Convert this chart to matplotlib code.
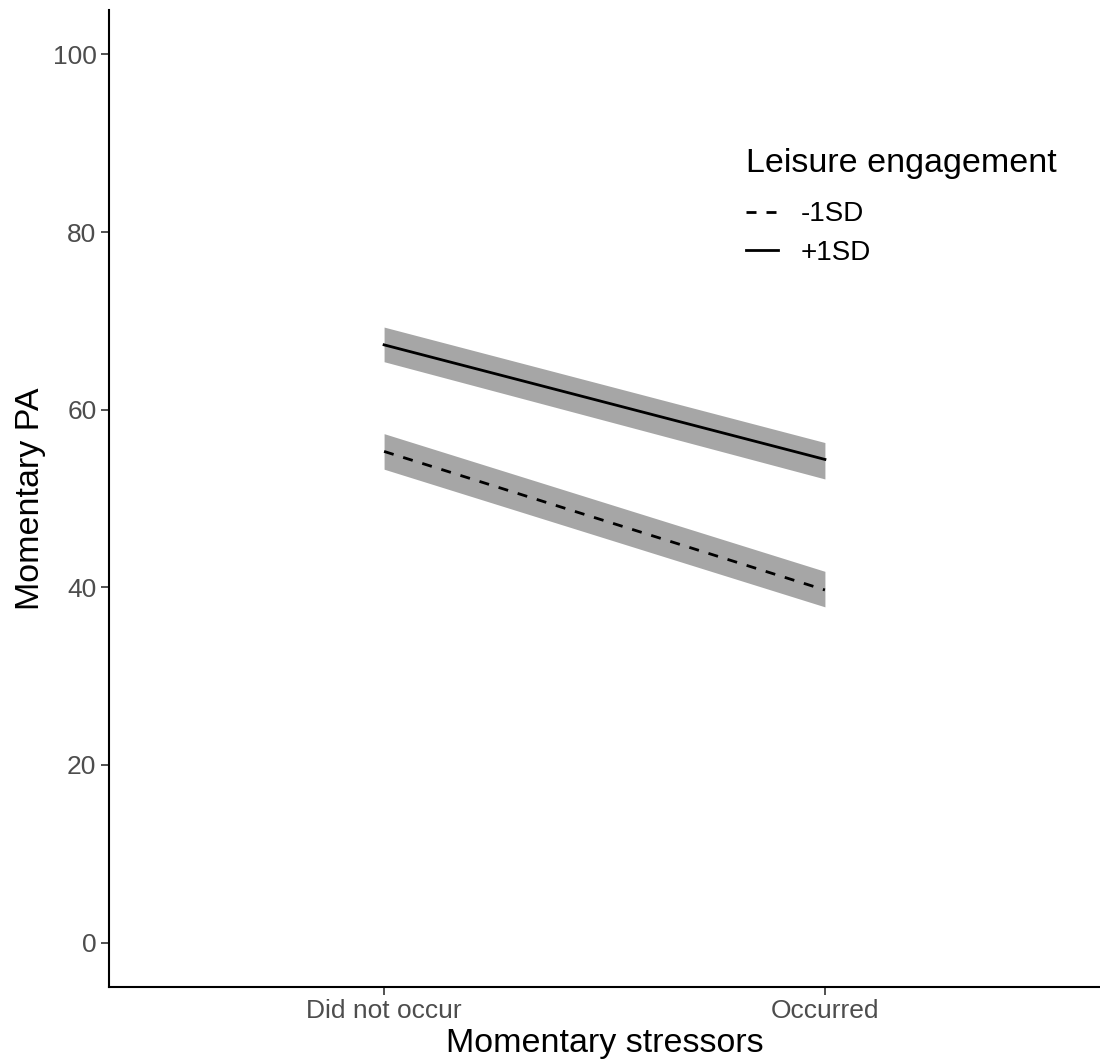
import matplotlib.pyplot as plt
import numpy as np

plt.rcParams['font.family'] = ['Liberation Sans', 'DejaVu Sans']

# data
categories = ['Did not occur', 'Occurred']
groups = ['-1SD', '+1SD']
fit = {'-1SD': [55.3, 39.7], '+1SD': [67.3, 54.4]}
lower = {'-1SD': [53.3, 37.8], '+1SD': [65.4, 52.2]}
upper = {'-1SD': [57.3, 41.8], '+1SD': [69.3, 56.3]}
yticks = [0, 20, 40, 60, 80, 100]

styles = {'-1SD': (0, (3.6, 3.6)), '+1SD': '-'}

fig = plt.figure(figsize=(11, 10.61), dpi=100)
ax = fig.add_axes([109/1100, 1-987/1061, 1-109/1100, (987-10)/1061])

x = np.arange(1, len(categories)+1)
for g in groups:
    ax.fill_between(x, lower[g], upper[g], color='#a6a6a6', lw=0, zorder=1)
for g in groups:
    ax.plot(x, fit[g], color='black', lw=2, linestyle=styles[g], label=g, zorder=2)

ax.set_xlim(0.376, 2.624)
ax.set_ylim(-5, 105)
ax.set_xticks(x)
ax.set_xticklabels(categories)
ax.set_yticks(yticks)
ax.tick_params(labelsize=19, labelcolor='#4d4d4d', color='#333333', length=6, width=1.2, pad=3)
for s in ['top', 'right']:
    ax.spines[s].set_visible(False)
for s in ['left', 'bottom']:
    ax.spines[s].set_linewidth(1.5)
ax.set_xlabel('Momentary stressors', fontsize=24.5, labelpad=3)
ax.set_ylabel('Momentary PA', fontsize=24.5, labelpad=5)

leg = ax.legend(title='Leisure engagement', loc='upper left', bbox_to_anchor=(0.632, 0.87),
                frameon=False, fontsize=20, title_fontsize=24.5, handlelength=1.15,
                handletextpad=0.8, labelspacing=0.45, alignment='left', borderaxespad=0)
leg._legend_box.sep = 16

fig.savefig('out.png', dpi=100)
